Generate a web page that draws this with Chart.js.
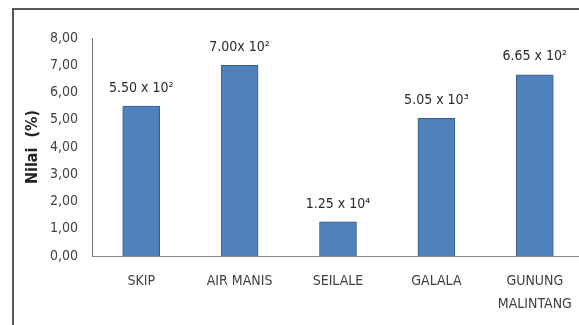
<!DOCTYPE html>
<html>
<head>
<meta charset="utf-8">
<script src="https://cdn.jsdelivr.net/npm/chart.js@4"></script>
<style>
  html, body { margin: 0; padding: 0; background: #fff; overflow: hidden; }
  #wrap { position: relative; width: 579px; height: 325px; overflow: hidden; }
  #myChart { position: absolute; left: 0; top: 0; }
</style>
</head>
<body>
<div id="wrap"><canvas id="myChart" width="590" height="325"></canvas></div>
<script>
// data
const categories = ['SKIP', 'AIR MANIS', 'SEILALE', 'GALALA', ['GUNUNG', 'MALINTANG']];
const nilai = [5.5, 7.0, 1.25, 5.05, 6.65];
const barLabels = ['5.50 x 10²', '7.00x 10²', '1.25 x 10⁴', '5.05 x 10³', '6.65 x 10²'];
const yTitle = 'Nilai  (%)';

const fontFam = '"Liberation Sans Narrow", "DejaVu Sans Condensed", "Liberation Sans", sans-serif';

// outer frame of the chart box (only top and left edges are in view)
const frame = {
    id: 'frame',
    beforeDraw(chart) {
        const c = chart.ctx;
        c.save();
        c.strokeStyle = '#555';
        c.lineWidth = 2;
        c.beginPath();
        c.moveTo(13, 400);
        c.lineTo(13, 9);
        c.lineTo(700, 9);
        c.stroke();
        c.restore();
    }
};

// draw the "x 10^n" text above each bar
const barText = {
    id: 'barText',
    afterDatasetsDraw(chart) {
        const c = chart.ctx;
        const meta = chart.getDatasetMeta(0);
        c.save();
        c.font = '14px ' + fontFam;
        c.fillStyle = '#2a2a2a';
        c.textAlign = 'center';
        c.textBaseline = 'middle';
        meta.data.forEach((bar, i) => {
            c.fillText(barLabels[i], bar.x, bar.y - 18);
        });
        c.restore();
    }
};

const ctx = document.getElementById('myChart').getContext('2d');
const myChart = new Chart(ctx, {
    type: 'bar',
    data: {
        labels: categories,
        datasets: [{
            data: nilai,
            backgroundColor: '#4F81BD',
            borderColor: '#385D8A',
            borderWidth: 1,
            barThickness: 37
        }]
    },
    options: {
        responsive: false,
        animation: false,
        layout: { padding: { left: 20, top: 38, right: 6, bottom: 0 } },
        plugins: {
            legend: { display: false },
            tooltip: { enabled: false }
        },
        scales: {
            x: {
                grid: { display: false, drawTicks: false },
                border: { display: true, color: '#888', width: 1 },
                ticks: {
                    color: '#404040',
                    padding: 13,
                    maxRotation: 0,
                    autoSkip: false,
                    font: { family: fontFam, size: 14, lineHeight: 1.7 }
                },
                afterFit(scale) { scale.height = 69; }
            },
            y: {
                min: 0,
                max: 8,
                grid: { display: false, drawTicks: false },
                border: { display: true, color: '#777', width: 1 },
                ticks: {
                    stepSize: 1,
                    color: '#404040',
                    padding: 14,
                    font: { family: fontFam, size: 14 },
                    callback: (v) => v.toFixed(2).replace('.', ',')
                },
                title: {
                    display: true,
                    text: yTitle,
                    color: '#222',
                    font: { family: fontFam, size: 16, weight: 'bold' },
                    padding: { top: 3, bottom: 4 }
                },
                afterFit(scale) { scale.width = 72; }
            }
        }
    },
    plugins: [frame, barText]
});
</script>
</body>
</html>
